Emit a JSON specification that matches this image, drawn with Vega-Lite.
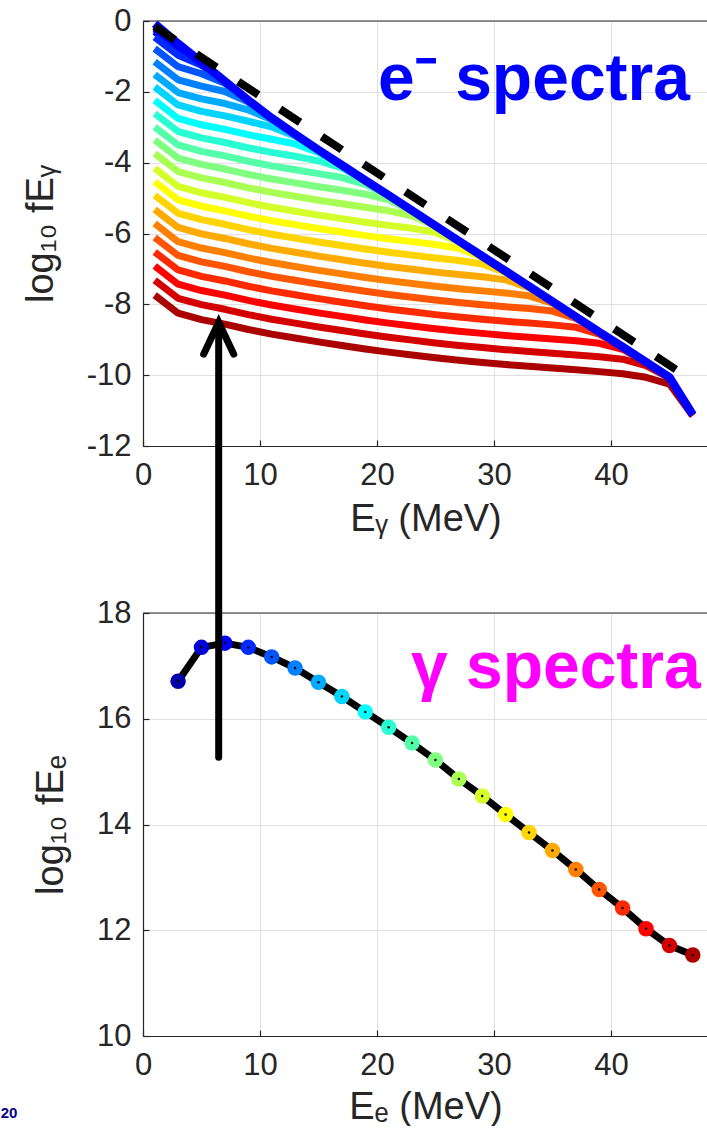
{
  "$schema": "https://vega.github.io/schema/vega-lite/v6.json",
  "background": "white",
  "padding": {"left": 0, "top": 5, "right": 0, "bottom": 0},
  "config": {
    "font": "Liberation Sans",
    "view": {"stroke": null},
    "axis": {
      "domainColor": "#262626", "tickColor": "#262626", "labelColor": "#262626", "titleColor": "#262626",
      "gridColor": "#e0e0e0", "gridWidth": 1, "labelFontSize": 31, "titleFontSize": 38, "titleFontWeight": "normal",
      "labelFont": "Liberation Sans", "titleFont": "Liberation Sans", "tickSize": -6, "domainWidth": 1.2, "tickWidth": 1.2
    }
  },
  "datasets": {
    "spec": [
      {"k":1,"x":1,"y":-0.17},{"k":1,"x":3,"y":-0.70},{"k":1,"x":5,"y":-1.17},{"k":1,"x":7,"y":-1.70},
      {"k":2,"x":1,"y":-0.23},{"k":2,"x":3,"y":-0.75},{"k":2,"x":5,"y":-1.18},{"k":2,"x":7,"y":-1.70},
      {"k":3,"x":1,"y":-0.30},{"k":3,"x":3,"y":-0.82},{"k":3,"x":5,"y":-1.19},{"k":3,"x":7,"y":-1.70},{"k":3,"x":9,"y":-2.24},
      {"k":4,"x":1,"y":-0.46},{"k":4,"x":3,"y":-0.97},{"k":4,"x":5,"y":-1.25},{"k":4,"x":7,"y":-1.71},{"k":4,"x":9,"y":-2.24},
      {"k":5,"x":1,"y":-0.78},{"k":5,"x":3,"y":-1.29},{"k":5,"x":5,"y":-1.49},{"k":5,"x":7,"y":-1.76},{"k":5,"x":9,"y":-2.25},{"k":5,"x":11,"y":-2.74},
      {"k":6,"x":1,"y":-1.15},{"k":6,"x":3,"y":-1.66},{"k":6,"x":5,"y":-1.84},{"k":6,"x":7,"y":-1.99},{"k":6,"x":9,"y":-2.29},{"k":6,"x":11,"y":-2.75},{"k":6,"x":13,"y":-3.20},
      {"k":7,"x":1,"y":-1.51},{"k":7,"x":3,"y":-2.02},{"k":7,"x":5,"y":-2.20},{"k":7,"x":7,"y":-2.33},{"k":7,"x":9,"y":-2.51},{"k":7,"x":11,"y":-2.79},{"k":7,"x":13,"y":-3.21},{"k":7,"x":15,"y":-3.64},
      {"k":8,"x":1,"y":-1.86},{"k":8,"x":3,"y":-2.37},{"k":8,"x":5,"y":-2.55},{"k":8,"x":7,"y":-2.68},{"k":8,"x":9,"y":-2.83},{"k":8,"x":11,"y":-2.99},{"k":8,"x":13,"y":-3.25},{"k":8,"x":15,"y":-3.65},{"k":8,"x":17,"y":-4.07},
      {"k":9,"x":1,"y":-2.24},{"k":9,"x":3,"y":-2.75},{"k":9,"x":5,"y":-2.93},{"k":9,"x":7,"y":-3.06},{"k":9,"x":9,"y":-3.21},{"k":9,"x":11,"y":-3.34},{"k":9,"x":13,"y":-3.47},{"k":9,"x":15,"y":-3.71},{"k":9,"x":17,"y":-4.08},{"k":9,"x":19,"y":-4.50},
      {"k":10,"x":1,"y":-2.61},{"k":10,"x":3,"y":-3.12},{"k":10,"x":5,"y":-3.30},{"k":10,"x":7,"y":-3.43},{"k":10,"x":9,"y":-3.58},{"k":10,"x":11,"y":-3.71},{"k":10,"x":13,"y":-3.82},{"k":10,"x":15,"y":-3.95},{"k":10,"x":17,"y":-4.15},{"k":10,"x":19,"y":-4.51},{"k":10,"x":21,"y":-4.92},
      {"k":11,"x":1,"y":-2.99},{"k":11,"x":3,"y":-3.50},{"k":11,"x":5,"y":-3.68},{"k":11,"x":7,"y":-3.81},{"k":11,"x":9,"y":-3.96},{"k":11,"x":11,"y":-4.09},{"k":11,"x":13,"y":-4.20},{"k":11,"x":15,"y":-4.31},{"k":11,"x":17,"y":-4.42},{"k":11,"x":19,"y":-4.61},{"k":11,"x":21,"y":-4.94},{"k":11,"x":23,"y":-5.35},
      {"k":12,"x":1,"y":-3.36},{"k":12,"x":3,"y":-3.87},{"k":12,"x":5,"y":-4.05},{"k":12,"x":7,"y":-4.18},{"k":12,"x":9,"y":-4.33},{"k":12,"x":11,"y":-4.46},{"k":12,"x":13,"y":-4.57},{"k":12,"x":15,"y":-4.68},{"k":12,"x":17,"y":-4.78},{"k":12,"x":19,"y":-4.89},{"k":12,"x":21,"y":-5.05},{"k":12,"x":23,"y":-5.37},{"k":12,"x":25,"y":-5.78},
      {"k":13,"x":1,"y":-3.74},{"k":13,"x":3,"y":-4.25},{"k":13,"x":5,"y":-4.43},{"k":13,"x":7,"y":-4.56},{"k":13,"x":9,"y":-4.71},{"k":13,"x":11,"y":-4.84},{"k":13,"x":13,"y":-4.95},{"k":13,"x":15,"y":-5.06},{"k":13,"x":17,"y":-5.16},{"k":13,"x":19,"y":-5.26},{"k":13,"x":21,"y":-5.36},{"k":13,"x":23,"y":-5.50},{"k":13,"x":25,"y":-5.80},{"k":13,"x":27,"y":-6.21},
      {"k":14,"x":1,"y":-4.16},{"k":14,"x":3,"y":-4.67},{"k":14,"x":5,"y":-4.85},{"k":14,"x":7,"y":-4.98},{"k":14,"x":9,"y":-5.13},{"k":14,"x":11,"y":-5.26},{"k":14,"x":13,"y":-5.37},{"k":14,"x":15,"y":-5.48},{"k":14,"x":17,"y":-5.58},{"k":14,"x":19,"y":-5.68},{"k":14,"x":21,"y":-5.77},{"k":14,"x":23,"y":-5.85},{"k":14,"x":25,"y":-5.97},{"k":14,"x":27,"y":-6.24},{"k":14,"x":29,"y":-6.64},
      {"k":15,"x":1,"y":-4.54},{"k":15,"x":3,"y":-5.05},{"k":15,"x":5,"y":-5.23},{"k":15,"x":7,"y":-5.36},{"k":15,"x":9,"y":-5.51},{"k":15,"x":11,"y":-5.64},{"k":15,"x":13,"y":-5.75},{"k":15,"x":15,"y":-5.86},{"k":15,"x":17,"y":-5.96},{"k":15,"x":19,"y":-6.06},{"k":15,"x":21,"y":-6.15},{"k":15,"x":23,"y":-6.23},{"k":15,"x":25,"y":-6.31},{"k":15,"x":27,"y":-6.42},{"k":15,"x":29,"y":-6.67},{"k":15,"x":31,"y":-7.06},
      {"k":16,"x":1,"y":-4.92},{"k":16,"x":3,"y":-5.43},{"k":16,"x":5,"y":-5.61},{"k":16,"x":7,"y":-5.74},{"k":16,"x":9,"y":-5.89},{"k":16,"x":11,"y":-6.02},{"k":16,"x":13,"y":-6.13},{"k":16,"x":15,"y":-6.24},{"k":16,"x":17,"y":-6.34},{"k":16,"x":19,"y":-6.44},{"k":16,"x":21,"y":-6.53},{"k":16,"x":23,"y":-6.61},{"k":16,"x":25,"y":-6.69},{"k":16,"x":27,"y":-6.76},{"k":16,"x":29,"y":-6.86},{"k":16,"x":31,"y":-7.10},{"k":16,"x":33,"y":-7.49},
      {"k":17,"x":1,"y":-5.32},{"k":17,"x":3,"y":-5.83},{"k":17,"x":5,"y":-6.01},{"k":17,"x":7,"y":-6.14},{"k":17,"x":9,"y":-6.29},{"k":17,"x":11,"y":-6.42},{"k":17,"x":13,"y":-6.53},{"k":17,"x":15,"y":-6.64},{"k":17,"x":17,"y":-6.74},{"k":17,"x":19,"y":-6.84},{"k":17,"x":21,"y":-6.93},{"k":17,"x":23,"y":-7.01},{"k":17,"x":25,"y":-7.09},{"k":17,"x":27,"y":-7.16},{"k":17,"x":29,"y":-7.22},{"k":17,"x":31,"y":-7.31},{"k":17,"x":33,"y":-7.53},{"k":17,"x":35,"y":-7.92},
      {"k":18,"x":1,"y":-5.72},{"k":18,"x":3,"y":-6.23},{"k":18,"x":5,"y":-6.41},{"k":18,"x":7,"y":-6.54},{"k":18,"x":9,"y":-6.69},{"k":18,"x":11,"y":-6.82},{"k":18,"x":13,"y":-6.93},{"k":18,"x":15,"y":-7.04},{"k":18,"x":17,"y":-7.14},{"k":18,"x":19,"y":-7.24},{"k":18,"x":21,"y":-7.33},{"k":18,"x":23,"y":-7.41},{"k":18,"x":25,"y":-7.49},{"k":18,"x":27,"y":-7.56},{"k":18,"x":29,"y":-7.62},{"k":18,"x":31,"y":-7.68},{"k":18,"x":33,"y":-7.76},{"k":18,"x":35,"y":-7.97},{"k":18,"x":37,"y":-8.35},
      {"k":19,"x":1,"y":-6.11},{"k":19,"x":3,"y":-6.62},{"k":19,"x":5,"y":-6.80},{"k":19,"x":7,"y":-6.93},{"k":19,"x":9,"y":-7.08},{"k":19,"x":11,"y":-7.21},{"k":19,"x":13,"y":-7.32},{"k":19,"x":15,"y":-7.43},{"k":19,"x":17,"y":-7.53},{"k":19,"x":19,"y":-7.63},{"k":19,"x":21,"y":-7.72},{"k":19,"x":23,"y":-7.80},{"k":19,"x":25,"y":-7.88},{"k":19,"x":27,"y":-7.95},{"k":19,"x":29,"y":-8.01},{"k":19,"x":31,"y":-8.07},{"k":19,"x":33,"y":-8.12},{"k":19,"x":35,"y":-8.19},{"k":19,"x":37,"y":-8.40},{"k":19,"x":39,"y":-8.78},
      {"k":20,"x":1,"y":-6.52},{"k":20,"x":3,"y":-7.03},{"k":20,"x":5,"y":-7.21},{"k":20,"x":7,"y":-7.34},{"k":20,"x":9,"y":-7.49},{"k":20,"x":11,"y":-7.62},{"k":20,"x":13,"y":-7.73},{"k":20,"x":15,"y":-7.84},{"k":20,"x":17,"y":-7.94},{"k":20,"x":19,"y":-8.04},{"k":20,"x":21,"y":-8.13},{"k":20,"x":23,"y":-8.21},{"k":20,"x":25,"y":-8.29},{"k":20,"x":27,"y":-8.36},{"k":20,"x":29,"y":-8.42},{"k":20,"x":31,"y":-8.48},{"k":20,"x":33,"y":-8.53},{"k":20,"x":35,"y":-8.58},{"k":20,"x":37,"y":-8.65},{"k":20,"x":39,"y":-8.84},{"k":20,"x":41,"y":-9.21},
      {"k":21,"x":1,"y":-6.92},{"k":21,"x":3,"y":-7.43},{"k":21,"x":5,"y":-7.61},{"k":21,"x":7,"y":-7.74},{"k":21,"x":9,"y":-7.89},{"k":21,"x":11,"y":-8.02},{"k":21,"x":13,"y":-8.13},{"k":21,"x":15,"y":-8.24},{"k":21,"x":17,"y":-8.34},{"k":21,"x":19,"y":-8.44},{"k":21,"x":21,"y":-8.53},{"k":21,"x":23,"y":-8.61},{"k":21,"x":25,"y":-8.69},{"k":21,"x":27,"y":-8.76},{"k":21,"x":29,"y":-8.82},{"k":21,"x":31,"y":-8.88},{"k":21,"x":33,"y":-8.93},{"k":21,"x":35,"y":-8.98},{"k":21,"x":37,"y":-9.03},{"k":21,"x":39,"y":-9.10},{"k":21,"x":41,"y":-9.27},{"k":21,"x":43,"y":-9.64},
      {"k":22,"x":1,"y":-7.32},{"k":22,"x":3,"y":-7.83},{"k":22,"x":5,"y":-8.01},{"k":22,"x":7,"y":-8.14},{"k":22,"x":9,"y":-8.29},{"k":22,"x":11,"y":-8.42},{"k":22,"x":13,"y":-8.53},{"k":22,"x":15,"y":-8.64},{"k":22,"x":17,"y":-8.74},{"k":22,"x":19,"y":-8.84},{"k":22,"x":21,"y":-8.93},{"k":22,"x":23,"y":-9.01},{"k":22,"x":25,"y":-9.09},{"k":22,"x":27,"y":-9.16},{"k":22,"x":29,"y":-9.22},{"k":22,"x":31,"y":-9.28},{"k":22,"x":33,"y":-9.33},{"k":22,"x":35,"y":-9.38},{"k":22,"x":37,"y":-9.43},{"k":22,"x":39,"y":-9.48},{"k":22,"x":41,"y":-9.55},{"k":22,"x":43,"y":-9.73},{"k":22,"x":45,"y":-10.08},{"k":22,"x":47,"y":-11.13},
      {"k":23,"x":1,"y":-7.74},{"k":23,"x":3,"y":-8.25},{"k":23,"x":5,"y":-8.43},{"k":23,"x":7,"y":-8.56},{"k":23,"x":9,"y":-8.71},{"k":23,"x":11,"y":-8.84},{"k":23,"x":13,"y":-8.95},{"k":23,"x":15,"y":-9.06},{"k":23,"x":17,"y":-9.16},{"k":23,"x":19,"y":-9.26},{"k":23,"x":21,"y":-9.35},{"k":23,"x":23,"y":-9.43},{"k":23,"x":25,"y":-9.51},{"k":23,"x":27,"y":-9.58},{"k":23,"x":29,"y":-9.64},{"k":23,"x":31,"y":-9.70},{"k":23,"x":33,"y":-9.75},{"k":23,"x":35,"y":-9.80},{"k":23,"x":37,"y":-9.85},{"k":23,"x":39,"y":-9.90},{"k":23,"x":41,"y":-9.96},{"k":23,"x":43,"y":-10.06},{"k":23,"x":45,"y":-10.25},{"k":23,"x":47,"y":-11.15}
    ],
    "env": [
      {"x":1,"y":-0.08},{"x":3,"y":-0.64},{"x":5,"y":-1.17},{"x":7,"y":-1.70},{"x":9,"y":-2.24},{"x":11,"y":-2.74},{"x":13,"y":-3.20},{"x":15,"y":-3.64},
      {"x":17,"y":-4.07},{"x":19,"y":-4.50},{"x":21,"y":-4.92},{"x":23,"y":-5.35},{"x":25,"y":-5.78},{"x":27,"y":-6.21},{"x":29,"y":-6.64},{"x":31,"y":-7.06},
      {"x":33,"y":-7.49},{"x":35,"y":-7.92},{"x":37,"y":-8.35},{"x":39,"y":-8.78},{"x":41,"y":-9.20},{"x":43,"y":-9.63},{"x":45,"y":-10.06},{"x":47,"y":-11.12}
    ],
    "dash": [{"x":1,"y":-0.16},{"x":45.55,"y":-9.84}],
    "gam": [
      {"k":1,"x":3,"y":16.71},{"k":2,"x":5,"y":17.35},{"k":3,"x":7,"y":17.43},{"k":4,"x":9,"y":17.35},{"k":5,"x":11,"y":17.17},{"k":6,"x":13,"y":16.96},
      {"k":7,"x":15,"y":16.69},{"k":8,"x":17,"y":16.42},{"k":9,"x":19,"y":16.13},{"k":10,"x":21,"y":15.84},{"k":11,"x":23,"y":15.54},{"k":12,"x":25,"y":15.22},
      {"k":13,"x":27,"y":14.86},{"k":14,"x":29,"y":14.54},{"k":15,"x":31,"y":14.19},{"k":16,"x":33,"y":13.85},{"k":17,"x":35,"y":13.51},{"k":18,"x":37,"y":13.15},
      {"k":19,"x":39,"y":12.77},{"k":20,"x":41,"y":12.42},{"k":21,"x":43,"y":12.03},{"k":22,"x":45,"y":11.71},{"k":23,"x":47,"y":11.53}
    ],
    "one": [{"a": 1}]
  },
  "spacing": 167,
  "bounds": "flush",
  "vconcat": [
    {
      "width": 565,
      "height": 425,
      "layer": [
        {
          "data": {"name": "spec"},
          "mark": {"type": "line", "strokeWidth": 7, "strokeJoin": "round"},
          "encoding": {
            "x": {"field": "x", "type": "quantitative", "scale": {"domain": [0, 48.3], "nice": false},
              "axis": {"values": [0, 10, 20, 30, 40], "grid": true, "labelPadding": 20, "labelFlush": false,
                "title": "Eᵧ (MeV)", "titlePadding": 10}},
            "y": {"field": "y", "type": "quantitative", "scale": {"domain": [-12, 0], "nice": false},
              "axis": {"values": [-12, -10, -8, -6, -4, -2, 0], "grid": true, "labelPadding": 18, "labelExpr": "'' + datum.value",
                "title": "log₁₀ fEᵧ", "titlePadding": 26}},
            "color": {"field": "k", "type": "ordinal", "legend": null,
              "scale": {"domain": [1,2,3,4,5,6,7,8,9,10,11,12,13,14,15,16,17,18,19,20,21,22,23],
                "range": ["#0000aa","#0000d4","#0000ff","#002aff","#0055ff","#0080ff","#00aaff","#00d4ff","#00ffff","#2affd4","#55ffaa","#80ff80","#aaff55","#d4ff2a","#ffff00","#ffd400","#ffaa00","#ff8000","#ff5500","#ff2a00","#ff0000","#d40000","#aa0000"]}},
            "detail": {"field": "k"}
          }
        },
        {
          "data": {"name": "env"},
          "mark": {"type": "line", "strokeWidth": 8.5, "color": "#0000ff", "strokeJoin": "round"},
          "encoding": {
            "x": {"field": "x", "type": "quantitative"},
            "y": {"field": "y", "type": "quantitative"}
          }
        },
        {
          "data": {"name": "dash"},
          "mark": {"type": "line", "strokeWidth": 8, "color": "black", "strokeDash": [24, 26]},
          "encoding": {
            "x": {"field": "x", "type": "quantitative"},
            "y": {"field": "y", "type": "quantitative"}
          }
        },
        {
          "data": {"name": "one"},
          "mark": {"type": "rule", "color": "#262626", "strokeWidth": 1.2},
          "encoding": {
            "y": {"datum": 0, "type": "quantitative"}
          }
        },
        {
          "data": {"name": "one"},
          "mark": {"type": "text", "text": "e⁻ spectra", "color": "#0000ff", "fontSize": 66, "fontWeight": "bold", "font": "Liberation Sans", "align": "left", "baseline": "alphabetic"},
          "encoding": {
            "x": {"datum": 20.1, "type": "quantitative"},
            "y": {"datum": -2.24, "type": "quantitative"}
          }
        }
      ]
    },
    {
      "width": 565,
      "height": 423,
      "layer": [
        {
          "data": {"name": "gam"},
          "mark": {"type": "line", "strokeWidth": 7, "color": "black", "strokeJoin": "round"},
          "encoding": {
            "x": {"field": "x", "type": "quantitative", "scale": {"domain": [0, 48.3], "nice": false},
              "axis": {"values": [0, 10, 20, 30, 40], "grid": true, "labelPadding": 20, "labelFlush": false,
                "title": "Eₑ (MeV)", "titlePadding": 8}},
            "y": {"field": "y", "type": "quantitative", "scale": {"domain": [10, 18], "nice": false},
              "axis": {"values": [10, 12, 14, 16, 18], "grid": true, "labelPadding": 18, "title": "log₁₀ fEₑ", "titlePadding": 26}}
          }
        },
        {
          "data": {"name": "gam"},
          "mark": {"type": "point", "shape": "circle", "filled": true, "size": 240, "opacity": 1},
          "encoding": {
            "x": {"field": "x", "type": "quantitative"},
            "y": {"field": "y", "type": "quantitative"},
            "color": {"field": "k", "type": "ordinal", "legend": null,
              "scale": {"domain": [1,2,3,4,5,6,7,8,9,10,11,12,13,14,15,16,17,18,19,20,21,22,23],
                "range": ["#0000aa","#0000d4","#0000ff","#002aff","#0055ff","#0080ff","#00aaff","#00d4ff","#00ffff","#2affd4","#55ffaa","#80ff80","#aaff55","#d4ff2a","#ffff00","#ffd400","#ffaa00","#ff8000","#ff5500","#ff2a00","#ff0000","#d40000","#aa0000"]}}
          }
        },
        {
          "data": {"name": "gam"},
          "mark": {"type": "point", "shape": "circle", "filled": true, "size": 6, "color": "black", "opacity": 1},
          "encoding": {
            "x": {"field": "x", "type": "quantitative"},
            "y": {"field": "y", "type": "quantitative"}
          }
        },
        {
          "data": {"name": "one"},
          "mark": {"type": "rule", "color": "#262626", "strokeWidth": 1.2},
          "encoding": {
            "y": {"datum": 18, "type": "quantitative"}
          }
        },
        {
          "data": {"name": "one"},
          "mark": {"type": "rule", "strokeWidth": 7, "color": "black", "strokeCap": "round"},
          "encoding": {
            "x": {"datum": 6.47, "type": "quantitative"},
            "y": {"datum": 15.27, "type": "quantitative"},
            "y2": {"datum": 23.4}
          }
        },
        {
          "data": {"name": "one"},
          "mark": {"type": "point", "shape": "M-0.47,1L0,0L0.47,1", "filled": false, "size": 4096, "strokeWidth": 7, "color": "black", "opacity": 1, "strokeCap": "round"},
          "encoding": {
            "x": {"datum": 6.47, "type": "quantitative"},
            "y": {"datum": 23.5, "type": "quantitative"}
          }
        },
        {
          "data": {"name": "one"},
          "mark": {"type": "text", "text": "γ spectra", "color": "#ff00ff", "fontSize": 66, "fontWeight": "bold", "font": "Liberation Sans", "align": "left", "baseline": "alphabetic"},
          "encoding": {
            "x": {"datum": 22.9, "type": "quantitative"},
            "y": {"datum": 16.59, "type": "quantitative"}
          }
        },
        {
          "data": {"name": "one"},
          "mark": {"type": "text", "text": "20", "color": "#00008b", "fontSize": 15, "fontWeight": "bold", "font": "Liberation Sans", "align": "left", "baseline": "middle"},
          "encoding": {
            "x": {"datum": -12.16, "type": "quantitative"},
            "y": {"datum": 8.54, "type": "quantitative"}
          }
        }
      ]
    }
  ]
}
